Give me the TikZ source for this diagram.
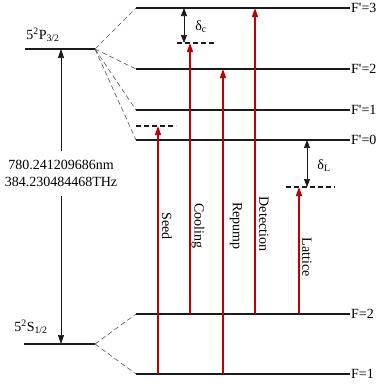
\documentclass[tikz,border=0pt]{standalone}
\usepackage{fontspec}
\setmainfont{Liberation Serif}
\usetikzlibrary{arrows.meta}
\definecolor{lvred}{HTML}{C00000}
\definecolor{lvink}{HTML}{1A1A1A}
\definecolor{lvgrey}{HTML}{555555}
\tikzset{
  lvl/.style={draw=lvink, line width=1.5pt},
  lvdash/.style={draw=lvink, line width=1.5pt, dash pattern=on 5pt off 3pt},
  lvfan/.style={draw=lvgrey, line width=0.6pt, dash pattern=on 5pt off 3pt},
  lvbeam/.style={draw=lvred, line width=1.4pt, -{Triangle[length=9pt,width=6pt]}},
  lvup/.style={draw=lvink, line width=0.7pt, -{Triangle[length=9pt,width=6pt]}},
  lvgap/.style={draw=lvink, line width=0.7pt, {Triangle[length=8pt,width=6pt]}-{Triangle[length=8pt,width=6pt]}},
  lvtxt/.style={font=\fontsize{14}{17}\selectfont, inner sep=1pt}
}
\begin{document}
\begin{tikzpicture}[x=1pt, y=-1pt]
  \useasboundingbox (0,0) rectangle (382,391);
  % fine structure
  \coordinate (p0) at (25,49); \coordinate (p1) at (95,49);
  \coordinate (s0) at (24,344); \coordinate (s1) at (95,344);
  \path[lvl] (p0)--(p1) (s0)--(s1);
  \node[lvtxt] (plab) at (43,35) {5\textsuperscript{2}P\textsubscript{3/2}};
  \node[lvtxt] (slab) at (31,327) {5\textsuperscript{2}S\textsubscript{1/2}};
  \node[lvtxt, align=center, inner sep=9pt] (wl) at (61,173.5) {780.241209686nm\\384.230484468THz};
  \draw[lvup] (wl.north) -- (wl.north |- p0);
  \draw[lvup] (wl.south) -- (wl.south |- s0);
  % hyperfine levels
  \foreach \n/\y/\t in {e3/8/F\textquotesingle=3, e2/69/F\textquotesingle=2, e1/110/F\textquotesingle=1,
                         e0/140/F\textquotesingle=0, g2/314/F=2, g1/374/F=1} {
    \coordinate (\n a) at (136,\y); \coordinate (\n b) at (350,\y);
    \path[lvl] (\n a)--(\n b);
    \node[lvtxt, anchor=west] (\n t) at (\n b) {\t};
  }
  \path[lvfan] (p1)--(e3a) (p1)--(e2a) (p1)--(e1a) (p1)--(e0a);
  \path[lvfan] (s1)--(g2a) (s1)--(g1a);
  % detuned levels
  \coordinate (sd0) at (136,126); \coordinate (sd1) at (176,126);
  \coordinate (cl0) at (177,43); \coordinate (cl1) at (216,43);
  \coordinate (lt0) at (286,187); \coordinate (lt1) at (335,187);
  \path[lvdash] (sd0)--(sd1) (cl0)--(cl1) (lt0)--(lt1);
  % beams
  \coordinate (seed) at (158,126); \coordinate (cool) at (190,43);
  \coordinate (rep) at (223,69); \coordinate (det) at (255,8);
  \coordinate (lat) at (299,187);
  \draw[lvbeam] (seed |- g1a) -- (seed);
  \draw[lvbeam] (cool |- g2a) -- (cool);
  \draw[lvbeam] (rep |- g1a) -- (rep);
  \draw[lvbeam] (det |- g2a) -- (det);
  \draw[lvbeam] (lat |- g2a) -- (lat);
  \node[lvtxt, rotate=-90] (seedt) at (167,226) {Seed};
  \node[lvtxt, rotate=-90] (coolt) at (198,226) {Cooling};
  \node[lvtxt, rotate=-90] (rept) at (236,226) {Repump};
  \node[lvtxt, rotate=-90] (dett) at (264,224) {Detection};
  \node[lvtxt, rotate=-90] (latt) at (307,257) {Lattice};
  % detunings
  \coordinate (dc) at (184,43); \coordinate (dl) at (307,187);
  \draw[lvgap] (dc |- e3a) -- (dc);
  \draw[lvgap] (dl |- e0a) -- (dl);
  \node[lvtxt] (dct) at (201,27) {δ\textsubscript{c}};
  \node[lvtxt] (dlt) at (324,166) {δ\textsubscript{L}};
\end{tikzpicture}
\end{document}
